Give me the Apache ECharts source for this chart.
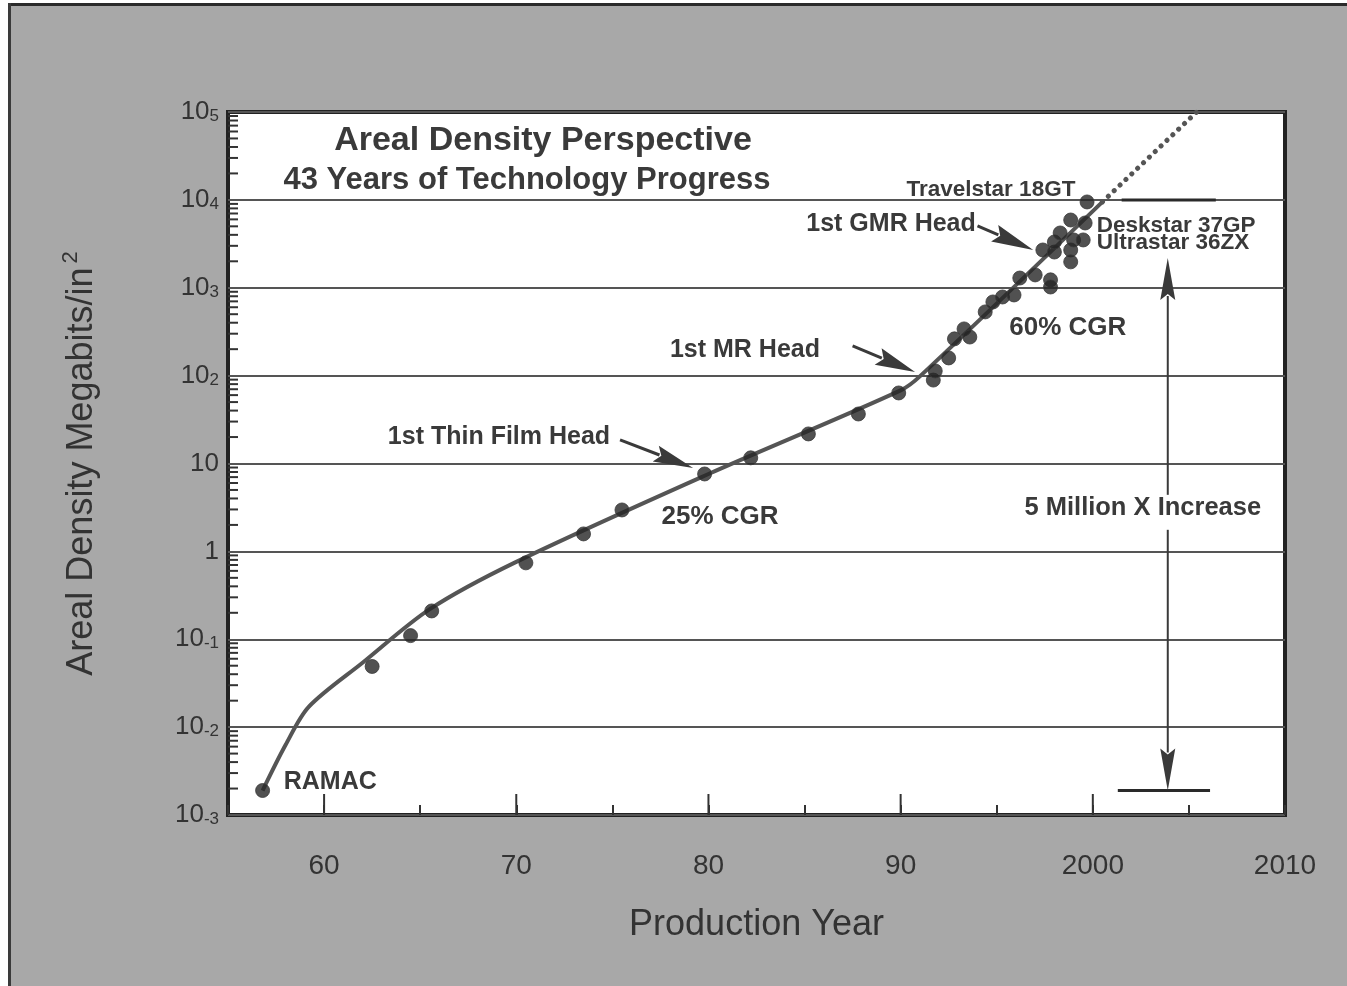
<!DOCTYPE html>
<html>
<head>
<meta charset="utf-8">
<script src="https://cdn.jsdelivr.net/npm/echarts@6/dist/echarts.min.js"></script>
<style>
  html, body { margin: 0; padding: 0; background: #ffffff; }
  #chart { width: 1347px; height: 986px; }
</style>
</head>
<body>
<div id="chart"></div>
<script>
// ---- data -------------------------------------------------------------
// Shipped products: production year and areal density (Mb/in^2)
const ramacYear = 1956.8;
const ramacDensity = 0.0019;

const productYears = [
  1962.5, 1964.5, 1965.6, 1970.5, 1973.5, 1975.5, 1979.8, 1982.2, 1985.2,
  1987.8, 1989.9, 1991.7, 1991.8, 1992.5, 1992.8, 1993.3, 1993.6, 1994.4,
  1994.8, 1995.3, 1995.9, 1996.2, 1997.0, 1997.8, 1997.8, 1997.4, 1998.0,
  1998.0, 1998.3, 1998.85, 1998.85, 1998.85, 1999.0, 1999.5, 1999.6, 1999.7
];
const productDensity = [
  0.049, 0.11, 0.21, 0.74, 1.58, 2.96, 7.6, 11.6, 21.7,
  36.6, 63.5, 89, 113, 159, 262, 340, 275, 531,
  689, 785, 828, 1290, 1400, 1230, 1020, 2690, 2550,
  3320, 4200, 5900, 2690, 1970, 3500, 3500, 5460, 9470
];

// Fitted trend (solid) and its projection (dotted)
const trendYears  = [1956.8, 1958.0, 1959.2, 1962.0, 1965.5, 1970, 1980, 1990, 1991, 2000.5];
const trendValues = [0.0019, 0.0063, 0.017, 0.054, 0.22, 0.76, 7.6, 68, 98, 9500];
const projectionYears  = [2000.5, 2005.4];
const projectionValues = [9500, 100000];

// Axis extents and ticks
const yearMin = 1955, yearMax = 2010;
const densityMin = 0.001, densityMax = 100000;
const decadeTickYears = [1960, 1970, 1980, 1990, 2000];
const minorMultipliers = [2, 3, 4, 5, 6, 7, 8, 9];
const decadeExponents = [-3, -2, -1, 0, 1, 2, 3, 4];

// ---- styling ---------------------------------------------------------
const ink = '#333333';
const textInk = '#3a3a3a';
const lineInk = '#555555';
const font = '"Liberation Sans", Arial, Helvetica, sans-serif';

const yMinorTicks = [];
decadeExponents.forEach(e => minorMultipliers.forEach(m => yMinorTicks.push([yearMin, m * Math.pow(10, e)])));

const chart = echarts.init(document.getElementById('chart'), null, { renderer: 'canvas' });

const option = {
  backgroundColor: '#a8a8a8',
  animation: false,
  grid: {
    left: 228, right: 62, top: 112, bottom: 171,
    show: true, backgroundColor: '#ffffff', borderColor: '#222222', borderWidth: 4
  },
  xAxis: {
    type: 'value', min: yearMin, max: yearMax, interval: 5,
    name: 'Production Year', nameLocation: 'middle', nameGap: 92,
    nameTextStyle: { fontFamily: font, fontSize: 36, color: ink },
    axisLine: { show: false },
    axisTick: { show: true, inside: true, length: 10, lineStyle: { color: '#333', width: 2 } },
    splitLine: { show: false },
    axisLabel: {
      margin: 37, fontFamily: font, fontSize: 28, color: ink,
      formatter: v => (v % 10 === 0 ? (v >= 2000 ? String(v) : String(v % 100)) : '')
    }
  },
  yAxis: {
    type: 'log', logBase: 10, min: densityMin, max: densityMax, splitNumber: 8,
    name: 'Areal Density Megabits/in{s|2}', nameLocation: 'middle', nameGap: 124,
    nameTextStyle: {
      fontFamily: font, fontSize: 36, color: ink,
      rich: { s: { fontFamily: font, fontSize: 22, color: ink, verticalAlign: 'top', padding: [0, 0, 22, 4] } }
    },
    axisLine: { show: false },
    axisTick: { show: false },
    splitLine: { show: true, lineStyle: { color: lineInk, width: 2 } },
    axisLabel: {
      margin: 9,
      formatter: v => {
        const e = Math.round(Math.log10(v));
        if (e === 0) return '{b|1}';
        if (e === 1) return '{b|10}';
        return '{b|10}{e|' + e + '}';
      },
      rich: {
        b: { fontFamily: font, fontSize: 26, color: ink },
        e: { fontFamily: font, fontSize: 17, color: ink, verticalAlign: 'bottom', padding: [7, 0, 0, 0] }
      }
    }
  },
  series: [
    {
      name: 'Trend', type: 'line', smooth: 0.3, symbol: 'none', z: 2,
      data: trendYears.map((y, i) => [y, trendValues[i]]),
      lineStyle: { color: lineInk, width: 4 }
    },
    {
      name: 'Projection', type: 'line', symbol: 'none', z: 2,
      data: projectionYears.map((y, i) => [y, projectionValues[i]]),
      lineStyle: { color: lineInk, width: 5, type: [0.1, 8], cap: 'round' }
    },
    {
      name: 'Products', type: 'scatter', symbolSize: 14, z: 4,
      data: [[ramacYear, ramacDensity]].concat(productYears.map((y, i) => [y, productDensity[i]])),
      itemStyle: { color: '#262626', borderColor: '#3a3a3a', borderWidth: 1 }
    },
    {
      name: 'y minor ticks', type: 'custom', silent: true, z: 6,
      data: yMinorTicks,
      renderItem: (params, api) => {
        const p = api.coord([api.value(0), api.value(1)]);
        return { type: 'line', shape: { x1: p[0], y1: p[1], x2: p[0] + 10, y2: p[1] }, style: { stroke: '#333', lineWidth: 2 } };
      }
    },
    {
      name: 'x decade ticks', type: 'custom', silent: true, z: 6,
      data: decadeTickYears.map(y => [y, densityMin]),
      renderItem: (params, api) => {
        const p = api.coord([api.value(0), api.value(1)]);
        return { type: 'line', shape: { x1: p[0], y1: p[1], x2: p[0], y2: p[1] - 21 }, style: { stroke: '#333', lineWidth: 2 } };
      }
    }
  ]
};

chart.setOption(option);

// ---- annotations placed in data space ---------------------------------
const px = (d) => chart.convertToPixel({ xAxisIndex: 0, yAxisIndex: 0 }, d);

function arrow(from, to, headLen, headW, lineW) {
  const a = px(from), b = px(to);
  const dx = b[0] - a[0], dy = b[1] - a[1], L = Math.hypot(dx, dy);
  const ux = dx / L, uy = dy / L, nx = -uy, ny = ux;
  const base = [b[0] - ux * headLen, b[1] - uy * headLen];
  return [
    { type: 'line', z: 100, shape: { x1: a[0], y1: a[1], x2: base[0] + ux * 4, y2: base[1] + uy * 4 }, style: { stroke: textInk, lineWidth: lineW } },
    { type: 'polygon', z: 100, shape: { points: [b, [base[0] + nx * headW / 2, base[1] + ny * headW / 2], [base[0] + ux * 6, base[1] + uy * 6], [base[0] - nx * headW / 2, base[1] - ny * headW / 2]] }, style: { fill: textInk } }
  ];
}

function textAt(text, p, size, align) {
  return {
    type: 'text', z: 100, x: p[0], y: p[1],
    style: { text, font: 'bold ' + size + 'px ' + font, fill: textInk, textAlign: align || 'center', align: align || 'center', textVerticalAlign: 'middle', verticalAlign: 'middle' }
  };
}
const label = (text, at, size, align) => textAt(text, px(at), size, align);

function hbar(x0, x1, v) {
  const a = px([x0, v]), b = px([x1, v]);
  return { type: 'line', z: 100, shape: { x1: a[0], y1: a[1], x2: b[0], y2: b[1] }, style: { stroke: '#2a2a2a', lineWidth: 3 } };
}

const arrowYear = 2003.9;
const graphics = [
  // page framing
  { type: 'rect', z: 0, shape: { x: 0, y: 0, width: 1347, height: 4 }, style: { fill: '#ffffff' } },
  { type: 'rect', z: 0, shape: { x: 0, y: 0, width: 8, height: 986 }, style: { fill: '#ffffff' } },
  { type: 'rect', z: 0, shape: { x: 8, y: 3, width: 1339, height: 3 }, style: { fill: '#2a2a2a' } },
  { type: 'rect', z: 0, shape: { x: 8, y: 3, width: 3, height: 983 }, style: { fill: '#3a3a3a' } },
  // heading inside plot
  textAt('Areal Density Perspective', [543, 141], 34),
  textAt('43 Years of Technology Progress', [527, 180], 31),
  label('1st Thin Film Head', [1969.1, 20.1], 25),
  label('25% CGR', [1980.6, 2.47], 26),
  label('1st MR Head', [1981.9, 196], 25),
  label('1st GMR Head', [1989.5, 5320], 25),
  label('60% CGR', [1998.7, 349], 26),
  label('Travelstar 18GT', [1994.7, 12970], 22.5),
  label('Deskstar 37GP', [2000.2, 5050], 22.5, 'left'),
  label('Ultrastar 36ZX', [2000.2, 3236], 22.5, 'left'),
  label('RAMAC', [1957.9, 0.00239], 25, 'left'),
  label('5 Million X Increase', [2002.6, 3.13], 25.5),
  hbar(2001.5, 2006.4, 10000),
  hbar(2001.3, 2006.1, ramacDensity)
]
  .concat(arrow([1975.4, 18.6], [1979.2, 8.9], 40, 17, 3))
  .concat(arrow([1987.5, 218], [1990.75, 110], 40, 18, 3))
  .concat(arrow([1994.0, 5050], [1996.9, 2690], 42, 18, 3))
  .concat(arrow([arrowYear, 4.4], [arrowYear, 2180], 42, 15, 2))
  .concat(arrow([arrowYear, 1.76], [arrowYear, ramacDensity], 42, 15, 2));

chart.setOption({ graphic: graphics });
</script>
</body>
</html>
